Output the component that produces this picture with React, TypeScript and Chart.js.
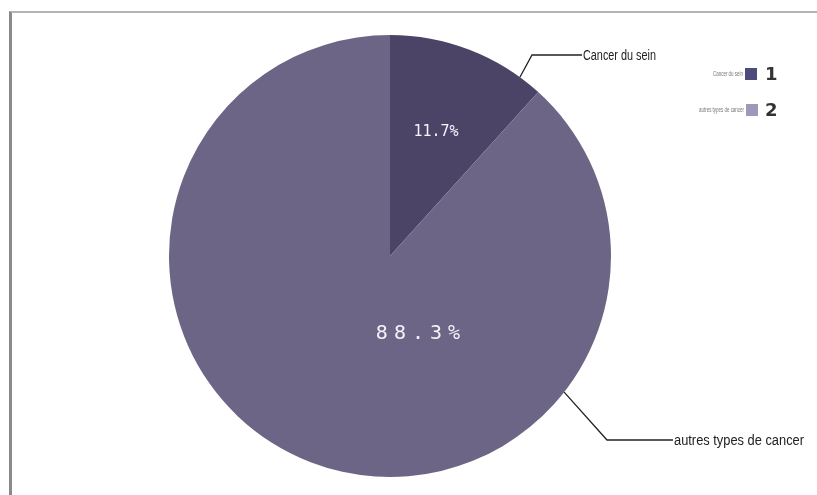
import React, { useEffect, useRef } from "react";
import { Chart, registerables } from "chart.js";

Chart.register(...registerables);

const categories = ["Cancer du sein", "autres types de cancer"];
const values = [11.7, 88.3];
const valueLabels = ["11.7%", "88.3%"];
const legendNumbers = ["1", "2"];
const sliceColors = ["#4b4467", "#6d6586"];
const legendColors = ["#4e4a7c", "#9c99b9"];

const labelPlugin = {
  id: "customLabels",
  afterDraw(chart: any) {
    const ctx = chart.ctx as CanvasRenderingContext2D;
    const meta = chart.getDatasetMeta(0);
    const a0 = meta.data[0];
    const cx = a0.x;
    const cy = a0.y;
    const r = a0.outerRadius;

    // percentage labels
    ctx.save();
    ctx.fillStyle = "#f4f2fa";
    ctx.textAlign = "center";
    ctx.textBaseline = "middle";
    const mid0 = (a0.startAngle + a0.endAngle) / 2;
    ctx.font = "15px 'DejaVu Sans Mono', monospace";
    (ctx as any).letterSpacing = "0px";
    ctx.fillText(valueLabels[0], cx + Math.cos(mid0) * r * 0.58, cy + Math.sin(mid0) * r * 0.6);
    ctx.font = "20px 'DejaVu Sans Mono', monospace";
    (ctx as any).letterSpacing = "6px";
    ctx.fillText(valueLabels[1], cx + r * 0.14, cy + r * 0.35);
    ctx.restore();

    const drawLeader = (angleFromTop: number, elbow: [number, number], endX: number, text: string, textWidth: number) => {
      const a = (angleFromTop * Math.PI) / 180;
      const sx = cx + Math.sin(a) * r;
      const sy = cy - Math.cos(a) * r;
      ctx.save();
      ctx.strokeStyle = "#222";
      ctx.lineWidth = 1.3;
      ctx.beginPath();
      ctx.moveTo(sx, sy);
      ctx.lineTo(elbow[0], elbow[1]);
      ctx.lineTo(endX, elbow[1]);
      ctx.stroke();
      ctx.fillStyle = "#222";
      ctx.font = "14px 'Liberation Sans', Arial, sans-serif";
      ctx.textBaseline = "middle";
      ctx.textAlign = "left";
      const w = ctx.measureText(text).width;
      ctx.translate(endX + 1, elbow[1] + 1);
      ctx.scale(textWidth / w, 1);
      ctx.fillText(text, 0, 0);
      ctx.restore();
    };
    drawLeader(36, [532, 55], 582, categories[0], 73);
    drawLeader(128, [607, 440], 673, categories[1], 130);

    const rows = [
      { y: 74, sqx: 745, tinyW: 30 },
      { y: 110, sqx: 746, tinyW: 45 },
    ];
    rows.forEach((row, i) => {
      ctx.save();
      ctx.fillStyle = legendColors[i];
      ctx.fillRect(row.sqx, row.y - 6, 12, 12);
      ctx.fillStyle = "#333";
      ctx.font = "bold 18px 'DejaVu Sans', sans-serif";
      ctx.textBaseline = "middle";
      ctx.textAlign = "left";
      ctx.fillText(legendNumbers[i], 765, row.y + 1);
      ctx.fillStyle = "#777";
      ctx.font = "7px 'Liberation Sans', sans-serif";
      ctx.textAlign = "left";
      const t = categories[i];
      const w = ctx.measureText(t).width;
      ctx.translate(row.sqx - 2 - row.tinyW, row.y);
      ctx.scale(row.tinyW / w, 1);
      ctx.fillText(t, 0, 0);
      ctx.restore();
    });
  },
};

export default function App() {
  const ref = useRef<HTMLCanvasElement>(null);
  useEffect(() => {
    if (!ref.current) return;
    const chart = new Chart(ref.current, {
      type: "pie",
      data: {
        labels: categories,
        datasets: [
          {
            data: values,
            backgroundColor: sliceColors,
            borderWidth: 0,
          },
        ],
      },
      options: {
        animation: false,
        responsive: false,
        maintainAspectRatio: false,
        layout: { padding: { left: 169, right: 206, top: 34, bottom: 17 } },
        plugins: {
          legend: { display: false },
          tooltip: { enabled: false },
        },
      },
      plugins: [labelPlugin],
    });
    return () => chart.destroy();
  }, []);
  return (
    <div style={{ position: "fixed", left: 0, top: 0, width: 817, height: 495, background: "#fff", overflow: "hidden" }}>
      <div
        style={{
          position: "absolute",
          left: 9,
          top: 11,
          width: 820,
          height: 500,
          borderTop: "2px solid #b5b5b5",
          borderLeft: "3px solid #8a8a8a",
        }}
      />
      <canvas ref={ref} width={817} height={495} style={{ position: "absolute", left: 0, top: 0 }} />
    </div>
  );
}
